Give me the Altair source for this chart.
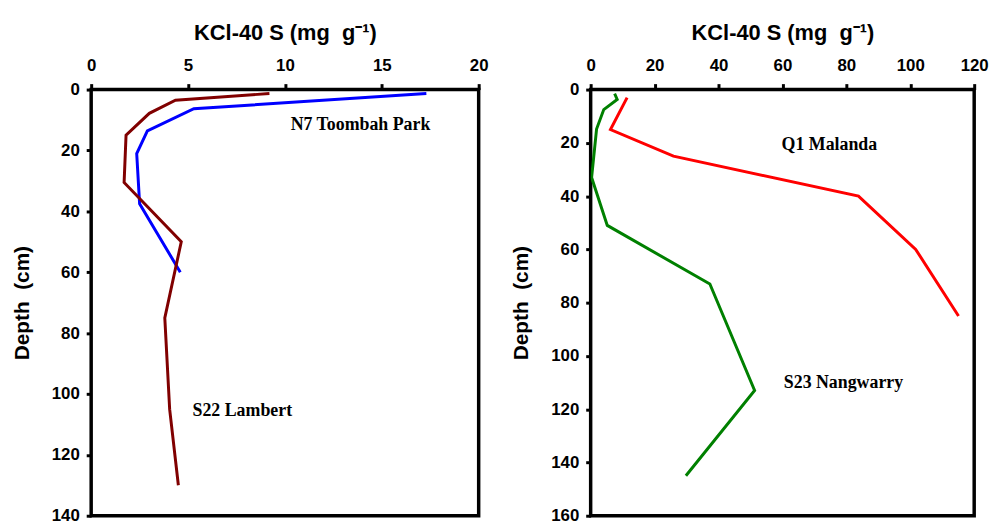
import altair as alt
import pandas as pd

# ---- data ----
# Left panel
n7_s = [17.3, 5.3, 2.9, 2.35, 2.5, 4.6]
n7_depth = [1.3, 6.3, 13.6, 21, 37.5, 60]
s22_s = [9.2, 4.35, 3.0, 1.8, 1.7, 4.65, 3.8, 4.05, 4.5]
s22_depth = [1.3, 3.5, 7.8, 15, 30.5, 50, 75, 105, 130]
# Right panel
s23_s = [7.5, 8.3, 4.1, 1.85, 0.3, 5.2, 37.3, 51.3, 29.8]
s23_depth = [1.5, 3.7, 7.5, 14.8, 33, 51, 73, 113, 145]
q1_s = [11.4, 6.2, 25.9, 83.8, 101.7, 115.1]
q1_depth = [3, 15, 25, 40, 60, 85]

left_labels = ["N7 Toombah Park", "S22 Lambert"]
left_label_x = [13.9, 7.8]
left_label_y = [11.6, 105.7]
right_labels = ["Q1 Malanda", "S23 Nangwarry"]
right_label_x = [74.7, 79.1]
right_label_y = [20.8, 110.1]

left_x_ticks = [0, 5, 10, 15, 20]
left_y_ticks = [0, 20, 40, 60, 80, 100, 120, 140]
right_x_ticks = [0, 20, 40, 60, 80, 100, 120]
right_y_ticks = [0, 20, 40, 60, 80, 100, 120, 140, 160]

X_TITLE = "KCl-40 S (mg \u00a0g\u207b\u00b9)"
Y_TITLE = "Depth \u00a0(cm)"
AX_FONT = "Liberation Sans"
ANN_FONT = "Liberation Serif"


def series_df(s, d):
    return pd.DataFrame({"s": s, "depth": d, "i": list(range(len(s)))})


def axis_x(ticks):
    return alt.Axis(orient="top", values=ticks, title=X_TITLE, grid=False,
                    domain=False, tickSize=6, tickWidth=3, tickColor="black",
                    labelFont=AX_FONT, labelFontSize=17, labelFontWeight="bold",
                    labelColor="black", labelPadding=9, labelFlush=False,
                    titleFont=AX_FONT, titleFontSize=22, titleFontWeight="bold",
                    titleColor="black", titlePadding=13)


def axis_y(ticks):
    return alt.Axis(values=ticks, title=Y_TITLE, grid=False, domain=False,
                    tickSize=5, tickWidth=3, tickColor="black",
                    labelFont=AX_FONT, labelFontSize=17, labelFontWeight="bold",
                    labelColor="black", labelPadding=7, labelFlush=False,
                    titleFont=AX_FONT, titleFontSize=21, titleFontWeight="bold",
                    titleColor="black", titlePadding=19)


def panel(series, labels, lx, ly, xdom, ydom, xt, yt, width, height):
    xs = alt.Scale(domain=xdom, nice=False, zero=False)
    ys = alt.Scale(domain=ydom, reverse=True, nice=False, zero=False)
    xa = axis_x(xt)
    ya = axis_y(yt)
    layers = []
    for s, d, col in series:
        layers.append(
            alt.Chart(series_df(s, d))
            .mark_line(color=col, strokeWidth=3, clip=True)
            .encode(x=alt.X("s:Q", scale=xs, axis=xa),
                    y=alt.Y("depth:Q", scale=ys, axis=ya),
                    order="i:Q")
        )
    lab = pd.DataFrame({"t": labels, "x": lx, "y": ly})
    layers.append(
        alt.Chart(lab)
        .mark_text(font=ANN_FONT, fontSize=18, fontWeight="bold", color="black",
                   align="center", baseline="middle")
        .encode(x=alt.X("x:Q", scale=xs, axis=xa),
                y=alt.Y("y:Q", scale=ys, axis=ya), text="t:N")
    )
    return alt.layer(*layers).properties(width=width, height=height)


left = panel([(n7_s, n7_depth, "#0000FF"), (s22_s, s22_depth, "#800000")],
             left_labels, left_label_x, left_label_y,
             [0, 20], [0, 140], left_x_ticks, left_y_ticks, 391, 430)
right = panel([(s23_s, s23_depth, "#008000"), (q1_s, q1_depth, "#FF0000")],
              right_labels, right_label_x, right_label_y,
              [0, 120], [0, 160], right_x_ticks, right_y_ticks, 387, 430)

chart = (
    alt.hconcat(left, right, spacing=18)
    .properties(padding={"left": 9, "top": 17, "right": 5, "bottom": 0},
                background="white")
    .configure_view(stroke="black", strokeWidth=3.5)
)

chart.save("out.html", embed_options={"renderer": "svg", "actions": False})
